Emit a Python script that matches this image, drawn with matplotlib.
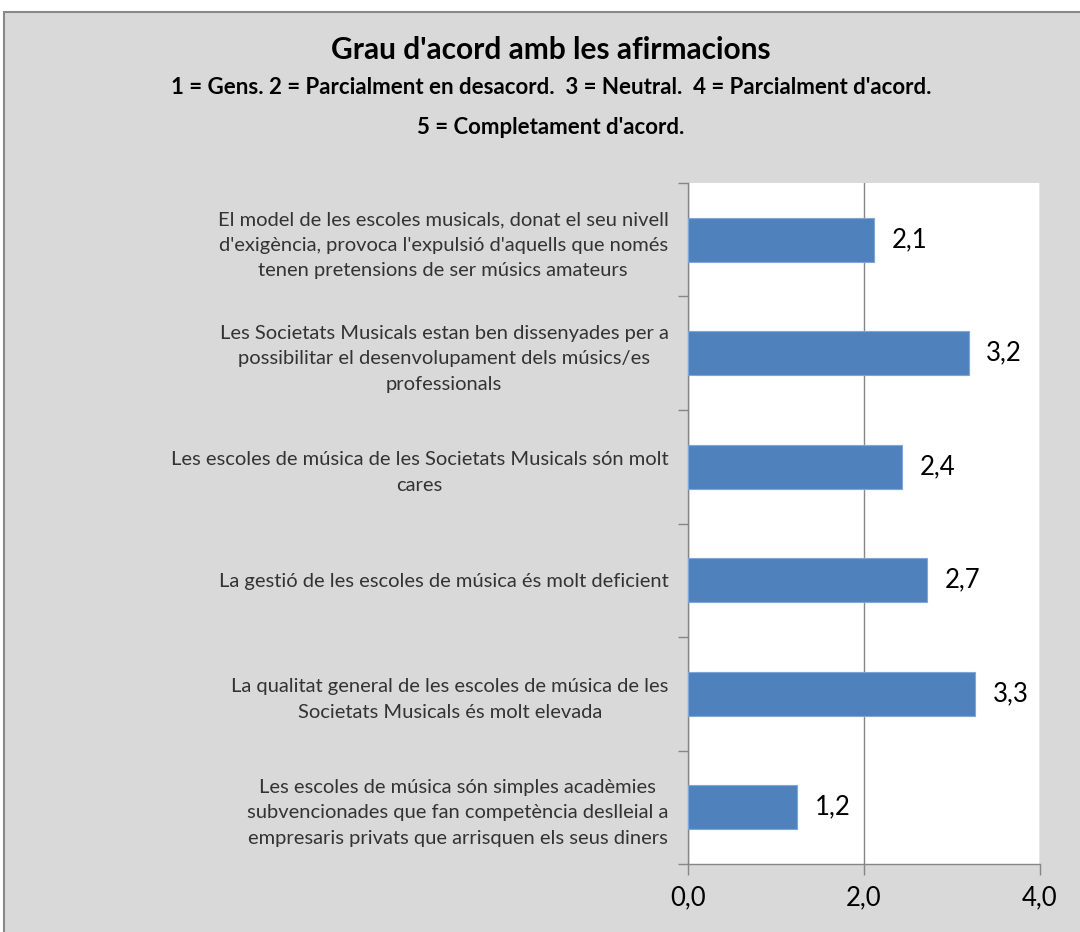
import matplotlib
matplotlib.use("Agg")
import matplotlib.pyplot as plt
from matplotlib.patches import Rectangle

plt.rcParams['font.family'] = ['Lato', 'DejaVu Sans']

statements = [
    "El model de les escoles musicals, donat el seu nivell\nd'exigència, provoca l'expulsió d'aquells que només\ntenen pretensions de ser músics amateurs",
    "Les Societats Musicals estan ben dissenyades per a\npossibilitar el desenvolupament dels músics/es\nprofessionals",
    "Les escoles de música de les Societats Musicals són molt\ncares",
    "La gestió de les escoles de música és molt deficient",
    "La qualitat general de les escoles de música de les\nSocietats Musicals és molt elevada",
    "Les escoles de música són simples acadèmies\nsubvencionades que fan competència deslleial a\nempresaris privats que arrisquen els seus diners",
]
scores = [2.11, 3.19, 2.43, 2.72, 3.26, 1.24]
x_ticks = [0, 2, 4]

title = "Grau d'acord amb les afirmacions"
subtitle1 = "1 = Gens. 2 = Parcialment en desacord.  3 = Neutral.  4 = Parcialment d'acord."
subtitle2 = "5 = Completament d'acord."

W, H = 1080, 932
fig = plt.figure(figsize=(W / 100, H / 100), dpi=100, facecolor='white')

# gray chart area with frame
frame = Rectangle((4 / W, -0.05), 1.2, 1 - 12 / H + 0.05, transform=fig.transFigure,
                  facecolor='#d9d9d9', edgecolor='#898989', linewidth=1.5, zorder=-10)
fig.patches.append(frame)

ax = fig.add_axes([688 / W, 1 - 864 / H, (1040 - 688) / W, (864 - 183) / H])
ax.set_facecolor('white')

pos = list(range(len(statements)))
bars = ax.barh(pos, scores, height=0.39, color='#4f81bd', edgecolor='#7ea6d8', linewidth=0.8, zorder=3)
ax.set_ylim(len(statements) - 0.5, -0.5)
ax.set_xlim(0, 4)

for b, v in zip(bars, scores):
    ax.text(v + 0.2, b.get_y() + b.get_height() / 2, f"{v:.1f}".replace('.', ','),
            va='center', ha='left', fontsize=18.5, color='black')

ax.set_yticks(pos)
ax.set_yticklabels(statements, fontsize=14.5, color='#333333', multialignment='center', linespacing=1.6)
ax.tick_params(axis='y', which='major', length=0, pad=14)
ax.set_yticks([p - 0.5 for p in pos] + [len(pos) - 0.5], minor=True)
ax.tick_params(axis='y', which='minor', length=7, color='#868686', width=1)

ax.set_xticks(x_ticks)
ax.set_xticklabels([f"{t:.1f}".replace('.', ',') for t in x_ticks], fontsize=18.5, color='black')
ax.tick_params(axis='x', length=8, color='#868686', width=1, pad=7)
ax.grid(axis='x', color='#868686', linewidth=1, zorder=0)

for s in ['top', 'right']:
    ax.spines[s].set_visible(False)
for s in ['left', 'bottom']:
    ax.spines[s].set_color('#868686')
    ax.spines[s].set_linewidth(1)

fig.text(551 / W, 1 - 50 / H, title, ha='center', va='center', fontsize=21.5, fontweight='bold')
fig.text(551 / W, 1 - 87 / H, subtitle1, ha='center', va='center', fontsize=16, fontweight='bold')
fig.text(551 / W, 1 - 128 / H, subtitle2, ha='center', va='center', fontsize=16, fontweight='bold')

fig.savefig('out.png', dpi=100, facecolor='white')
